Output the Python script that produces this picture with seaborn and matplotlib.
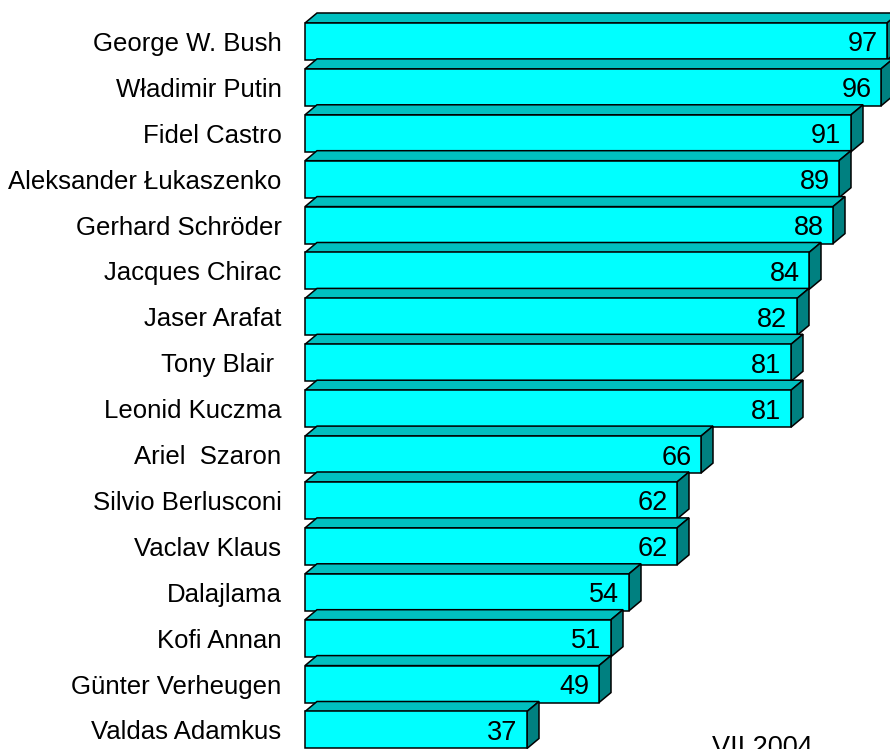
import pandas as pd
import numpy as np
import seaborn as sns
import matplotlib.pyplot as plt
from matplotlib.patches import Polygon

# data
names = ["George W. Bush", "Władimir Putin", "Fidel Castro", "Aleksander Łukaszenko",
         "Gerhard Schröder", "Jacques Chirac", "Jaser Arafat", "Tony Blair ",
         "Leonid Kuczma", "Ariel  Szaron", "Silvio Berlusconi", "Vaclav Klaus",
         "Dalajlama", "Kofi Annan", "Günter Verheugen", "Valdas Adamkus"]
values = [97, 96, 91, 89, 88, 84, 82, 81, 81, 66, 62, 62, 54, 51, 49, 37]
note = "VII 2004"

df = pd.DataFrame({"name": names, "value": values})

sns.set_style("white")
plt.rcParams["font.family"] = ["Liberation Sans", "DejaVu Sans"]
plt.rcParams["text.color"] = "black"
plt.rcParams["ytick.color"] = "black"
plt.rcParams["ytick.labelcolor"] = "black"

fig = plt.figure(figsize=(8.9, 7.49), dpi=100)
ax = fig.add_axes([305 / 890, 0, 585 / 890, 1])

sns.barplot(data=df, x="value", y="name", orient="h", color="#00FFFF",
            width=0.806, edgecolor="black", linewidth=1.1, saturation=1, ax=ax)

ax.set_xlim(0, 97.5)
ax.set_ylim(15.414, -0.904)

# 3d look: top and side faces, upper bars drawn over lower ones
dx, dy = 2.0, 0.218
for i, p in enumerate(ax.patches):
    x0, y0 = p.get_x(), p.get_y()
    w, h = p.get_width(), p.get_height()
    z = 10 + (len(ax.patches) - i) * 3
    top = Polygon([(x0, y0), (x0 + dx, y0 - dy), (x0 + w + dx, y0 - dy), (x0 + w, y0)],
                  closed=True, facecolor="#00C0C0", edgecolor="black", lw=1.1, zorder=z)
    side = Polygon([(x0 + w, y0), (x0 + w + dx, y0 - dy), (x0 + w + dx, y0 + h - dy), (x0 + w, y0 + h)],
                   closed=True, facecolor="#008080", edgecolor="black", lw=1.1, zorder=z)
    for poly in (top, side):
        poly.set_clip_on(False)
        ax.add_patch(poly)
    p.set_zorder(z + 1)
    p.set_clip_on(False)
    ax.text(x0 + w - 1.6, y0 + h / 2, str(values[i]), ha="right", va="center_baseline",
            fontsize=19.5, color="black", zorder=z + 2)

sns.despine(ax=ax, left=True, bottom=True)
ax.set_xlabel("")
ax.set_ylabel("")
ax.set_xticks([])
ax.tick_params(axis="y", length=0, pad=17, labelsize=18.5, labelcolor="black")

fig.text(712 / 890, -6 / 749, note, ha="left", va="baseline", fontsize=19.5, color="black")

fig.savefig("out.png", dpi=100)
